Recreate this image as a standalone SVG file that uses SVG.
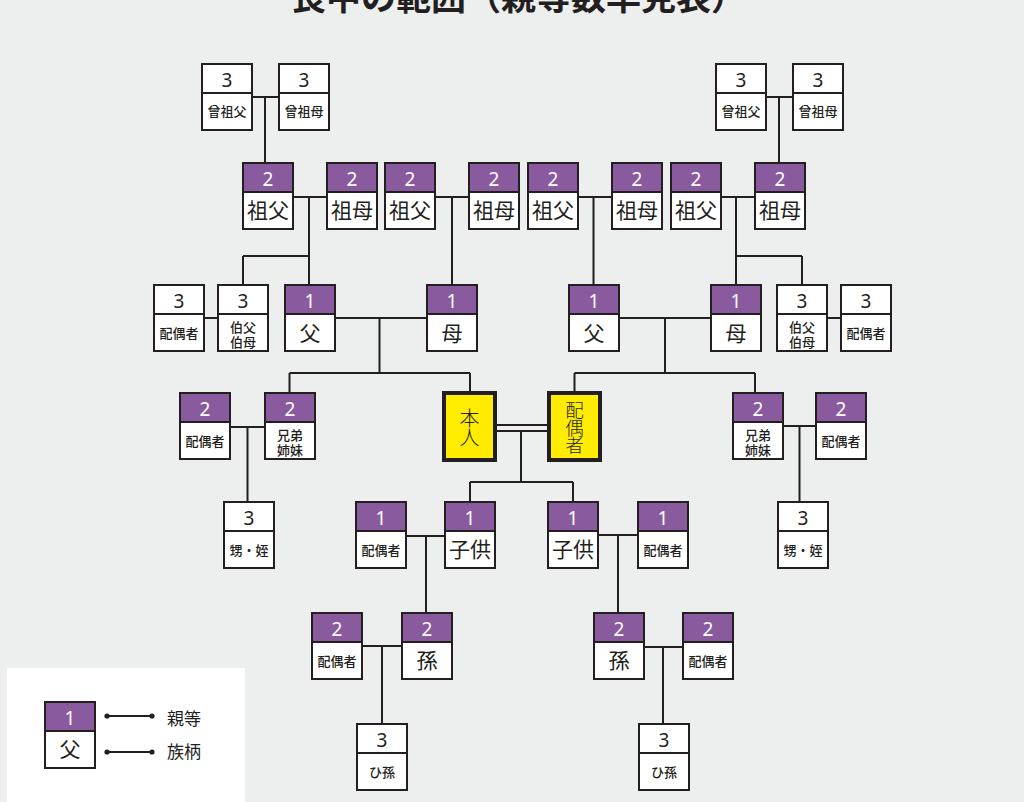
<svg xmlns="http://www.w3.org/2000/svg" width="1024" height="802" viewBox="0 0 1024 802">
<style>
.bg{fill:#edeeee}
.box{fill:#fff;stroke:#231f20;stroke-width:2}
.hd{fill:#8a5a9f;stroke:#231f20;stroke-width:2}
.hw{fill:#fff;stroke:#231f20;stroke-width:2}
.me{fill:#ffec00;stroke:#231f20;stroke-width:4}
.num{font-family:"Noto Sans","Open Sans",sans-serif;font-size:19px;text-anchor:middle}
.nw{fill:#fff}
.nb{fill:#231f20}
.big{font-family:"Noto Sans CJK JP","Noto Sans",sans-serif;font-size:21px;text-anchor:middle;fill:#231f20}
.sm{font-family:"Noto Sans CJK JP","Noto Sans",sans-serif;font-size:13px;font-weight:500;text-anchor:middle;fill:#231f20}
.two{font-family:"Liberation Sans","Noto Sans CJK JP",sans-serif;font-size:13px;font-weight:500;text-anchor:middle;fill:#231f20}
.vt{font-family:"Noto Sans CJK JP","Noto Sans",sans-serif;font-weight:300;text-anchor:middle;fill:#231f20;writing-mode:vertical-rl;letter-spacing:-1px}
.ln{fill:none;stroke:#231f20;stroke-width:2}
.title{font-family:"Noto Sans CJK JP","Noto Sans",sans-serif;font-size:35px;font-weight:700;fill:#231f20}
.lg{font-family:"Noto Sans CJK JP","Noto Sans",sans-serif;font-size:17px;fill:#231f20}
</style>
<defs>
<marker id="dot" markerWidth="6" markerHeight="6" refX="3" refY="3" markerUnits="userSpaceOnUse"><circle cx="3" cy="3" r="2.6" fill="#231f20"/></marker>
</defs>
<rect class="bg" x="0" y="0" width="1024" height="802"/>
<text class="title" x="291" y="10">喪中の範囲（親等数早見表）</text>

<g id="connectors">
<path class="ln" d="M251 97H279M265 97V163"/>
<path class="ln" d="M766 97H793M779 97V163"/>
<path class="ln" d="M293 197H327M309 197V285M243 256H309M243 256V285"/>
<path class="ln" d="M435 197H469M452 197V285"/>
<path class="ln" d="M578 197H612M593.5 197V285"/>
<path class="ln" d="M721 197H755M736 197V285M736 256H802M802 256V285"/>
<path class="ln" d="M204 318H218M827 318H841"/>
<path class="ln" d="M335 318H427M379.5 318V373M289.5 373H470M289.5 373V393M470 373V393"/>
<path class="ln" d="M619 318H711M665 318V373M574.5 373H755M574.5 373V393M755 373V393"/>
<path class="ln" d="M230 427H265M247.5 427V502"/>
<path class="ln" d="M783 426H816M799.5 426V502"/>
<path class="ln" d="M495 425H549M495 431H549M521 431V482M470 482H573M470 482V502M573 482V502"/>
<path class="ln" d="M406 536H445M426 536V613"/>
<path class="ln" d="M598 535H638M618 535V613"/>
<path class="ln" d="M362 646H402M382 646V724"/>
<path class="ln" d="M643 647H683M663 647V724"/>
</g>

<!-- row 1 -->
<g id="ggf-l"><rect class="box" x="202" y="64" width="50" height="66"/><rect class="hw" x="202" y="64" width="50" height="29"/><text class="num nb" x="227" y="87">3</text><text class="sm" x="227" y="116">曾祖父</text></g>
<g id="ggm-l"><rect class="box" x="279" y="64" width="50" height="66"/><rect class="hw" x="279" y="64" width="50" height="29"/><text class="num nb" x="304" y="87">3</text><text class="sm" x="304" y="116">曾祖母</text></g>
<g id="ggf-r"><rect class="box" x="716" y="64" width="50" height="66"/><rect class="hw" x="716" y="64" width="50" height="29"/><text class="num nb" x="741" y="87">3</text><text class="sm" x="741" y="116">曾祖父</text></g>
<g id="ggm-r"><rect class="box" x="793" y="64" width="50" height="66"/><rect class="hw" x="793" y="64" width="50" height="29"/><text class="num nb" x="818" y="87">3</text><text class="sm" x="818" y="116">曾祖母</text></g>

<!-- row 2 -->
<g id="gf1"><rect class="box" x="243" y="163" width="50" height="66"/><rect class="hd" x="243" y="163" width="50" height="29"/><text class="num nw" x="268" y="186">2</text><text class="big" x="268" y="218">祖父</text></g>
<g id="gm1"><rect class="box" x="327" y="163" width="50" height="66"/><rect class="hd" x="327" y="163" width="50" height="29"/><text class="num nw" x="352" y="186">2</text><text class="big" x="352" y="218">祖母</text></g>
<g id="gf2"><rect class="box" x="385" y="163" width="50" height="66"/><rect class="hd" x="385" y="163" width="50" height="29"/><text class="num nw" x="410" y="186">2</text><text class="big" x="410" y="218">祖父</text></g>
<g id="gm2"><rect class="box" x="469" y="163" width="50" height="66"/><rect class="hd" x="469" y="163" width="50" height="29"/><text class="num nw" x="494" y="186">2</text><text class="big" x="494" y="218">祖母</text></g>
<g id="gf3"><rect class="box" x="528" y="163" width="50" height="66"/><rect class="hd" x="528" y="163" width="50" height="29"/><text class="num nw" x="553" y="186">2</text><text class="big" x="553" y="218">祖父</text></g>
<g id="gm3"><rect class="box" x="612" y="163" width="50" height="66"/><rect class="hd" x="612" y="163" width="50" height="29"/><text class="num nw" x="637" y="186">2</text><text class="big" x="637" y="218">祖母</text></g>
<g id="gf4"><rect class="box" x="671" y="163" width="50" height="66"/><rect class="hd" x="671" y="163" width="50" height="29"/><text class="num nw" x="696" y="186">2</text><text class="big" x="696" y="218">祖父</text></g>
<g id="gm4"><rect class="box" x="755" y="163" width="50" height="66"/><rect class="hd" x="755" y="163" width="50" height="29"/><text class="num nw" x="780" y="186">2</text><text class="big" x="780" y="218">祖母</text></g>

<!-- row 3 -->
<g id="sp-uncle-l"><rect class="box" x="154" y="285" width="50" height="66"/><rect class="hw" x="154" y="285" width="50" height="29"/><text class="num nb" x="179" y="308">3</text><text class="sm" x="179" y="338">配偶者</text></g>
<g id="uncle-l"><rect class="box" x="218" y="285" width="50" height="66"/><rect class="hw" x="218" y="285" width="50" height="29"/><text class="num nb" x="243" y="308">3</text><text class="two" x="243" y="332">伯父<tspan x="243" dy="14.5">伯母</tspan></text></g>
<g id="father-l"><rect class="box" x="285" y="285" width="50" height="66"/><rect class="hd" x="285" y="285" width="50" height="29"/><text class="num nw" x="310" y="308">1</text><text class="big" x="310" y="341">父</text></g>
<g id="mother-l"><rect class="box" x="427" y="285" width="50" height="66"/><rect class="hd" x="427" y="285" width="50" height="29"/><text class="num nw" x="452" y="308">1</text><text class="big" x="452" y="341">母</text></g>
<g id="father-r"><rect class="box" x="569" y="285" width="50" height="66"/><rect class="hd" x="569" y="285" width="50" height="29"/><text class="num nw" x="594" y="308">1</text><text class="big" x="594" y="341">父</text></g>
<g id="mother-r"><rect class="box" x="711" y="285" width="50" height="66"/><rect class="hd" x="711" y="285" width="50" height="29"/><text class="num nw" x="736" y="308">1</text><text class="big" x="736" y="341">母</text></g>
<g id="uncle-r"><rect class="box" x="777" y="285" width="50" height="66"/><rect class="hw" x="777" y="285" width="50" height="29"/><text class="num nb" x="802" y="308">3</text><text class="two" x="802" y="332">伯父<tspan x="802" dy="14.5">伯母</tspan></text></g>
<g id="sp-uncle-r"><rect class="box" x="841" y="285" width="50" height="66"/><rect class="hw" x="841" y="285" width="50" height="29"/><text class="num nb" x="866" y="308">3</text><text class="sm" x="866" y="338">配偶者</text></g>

<!-- row 4 -->
<g id="sp-sib-l"><rect class="box" x="180" y="393" width="50" height="66"/><rect class="hd" x="180" y="393" width="50" height="29"/><text class="num nw" x="205" y="416">2</text><text class="sm" x="205" y="446">配偶者</text></g>
<g id="sib-l"><rect class="box" x="265" y="393" width="50" height="66"/><rect class="hd" x="265" y="393" width="50" height="29"/><text class="num nw" x="290" y="416">2</text><text class="two" x="290" y="440">兄弟<tspan x="290" dy="14.5">姉妹</tspan></text></g>
<g id="self"><rect class="me" x="444" y="393" width="51" height="67"/><text class="vt" x="469.5" y="427" font-size="20">本人</text></g>
<g id="spouse"><rect class="me" x="549" y="393" width="51" height="67"/><text class="vt" x="574.5" y="427" font-size="18.5">配偶者</text></g>
<g id="sib-r"><rect class="box" x="733" y="393" width="50" height="66"/><rect class="hd" x="733" y="393" width="50" height="29"/><text class="num nw" x="758" y="416">2</text><text class="two" x="758" y="440">兄弟<tspan x="758" dy="14.5">姉妹</tspan></text></g>
<g id="sp-sib-r"><rect class="box" x="816" y="393" width="50" height="66"/><rect class="hd" x="816" y="393" width="50" height="29"/><text class="num nw" x="841" y="416">2</text><text class="sm" x="841" y="446">配偶者</text></g>

<!-- row 5 -->
<g id="nephew-l"><rect class="box" x="224" y="502" width="50" height="66"/><rect class="hw" x="224" y="502" width="50" height="29"/><text class="num nb" x="249" y="525">3</text><text class="sm" x="249" y="555">甥・姪</text></g>
<g id="sp-child-l"><rect class="box" x="356" y="502" width="50" height="66"/><rect class="hd" x="356" y="502" width="50" height="29"/><text class="num nw" x="381" y="525">1</text><text class="sm" x="381" y="555">配偶者</text></g>
<g id="child-l"><rect class="box" x="445" y="502" width="50" height="66"/><rect class="hd" x="445" y="502" width="50" height="29"/><text class="num nw" x="470" y="525">1</text><text class="big" x="470" y="557">子供</text></g>
<g id="child-r"><rect class="box" x="548" y="502" width="50" height="66"/><rect class="hd" x="548" y="502" width="50" height="29"/><text class="num nw" x="573" y="525">1</text><text class="big" x="573" y="557">子供</text></g>
<g id="sp-child-r"><rect class="box" x="638" y="502" width="50" height="66"/><rect class="hd" x="638" y="502" width="50" height="29"/><text class="num nw" x="663" y="525">1</text><text class="sm" x="663" y="555">配偶者</text></g>
<g id="nephew-r"><rect class="box" x="778" y="502" width="50" height="66"/><rect class="hw" x="778" y="502" width="50" height="29"/><text class="num nb" x="803" y="525">3</text><text class="sm" x="803" y="555">甥・姪</text></g>

<!-- row 6 -->
<g id="sp-gc-l"><rect class="box" x="312" y="613" width="50" height="66"/><rect class="hd" x="312" y="613" width="50" height="29"/><text class="num nw" x="337" y="636">2</text><text class="sm" x="337" y="666">配偶者</text></g>
<g id="gc-l"><rect class="box" x="402" y="613" width="50" height="66"/><rect class="hd" x="402" y="613" width="50" height="29"/><text class="num nw" x="427" y="636">2</text><text class="big" x="427" y="668">孫</text></g>
<g id="gc-r"><rect class="box" x="594" y="613" width="50" height="66"/><rect class="hd" x="594" y="613" width="50" height="29"/><text class="num nw" x="619" y="636">2</text><text class="big" x="619" y="668">孫</text></g>
<g id="sp-gc-r"><rect class="box" x="683" y="613" width="50" height="66"/><rect class="hd" x="683" y="613" width="50" height="29"/><text class="num nw" x="708" y="636">2</text><text class="sm" x="708" y="666">配偶者</text></g>

<!-- row 7 -->
<g id="ggc-l"><rect class="box" x="357" y="724" width="50" height="66"/><rect class="hw" x="357" y="724" width="50" height="29"/><text class="num nb" x="382" y="747">3</text><text class="sm" x="382" y="777">ひ孫</text></g>
<g id="ggc-r"><rect class="box" x="639" y="724" width="50" height="66"/><rect class="hw" x="639" y="724" width="50" height="29"/><text class="num nb" x="664" y="747">3</text><text class="sm" x="664" y="777">ひ孫</text></g>

<!-- legend -->
<g id="legend">
<rect x="7" y="668" width="238" height="134" fill="#fff"/>
<rect class="box" x="45" y="702" width="50" height="66"/><rect class="hd" x="45" y="702" width="50" height="29"/><text class="num nw" x="70" y="725">1</text><text class="big" x="70" y="757">父</text>
<path class="ln" d="M107 716H152" marker-start="url(#dot)" marker-end="url(#dot)"/>
<path class="ln" d="M107 752H152" marker-start="url(#dot)" marker-end="url(#dot)"/>
<text class="lg" x="167" y="725">親等</text>
<text class="lg" x="167" y="758">族柄</text>
</g>
</svg>
